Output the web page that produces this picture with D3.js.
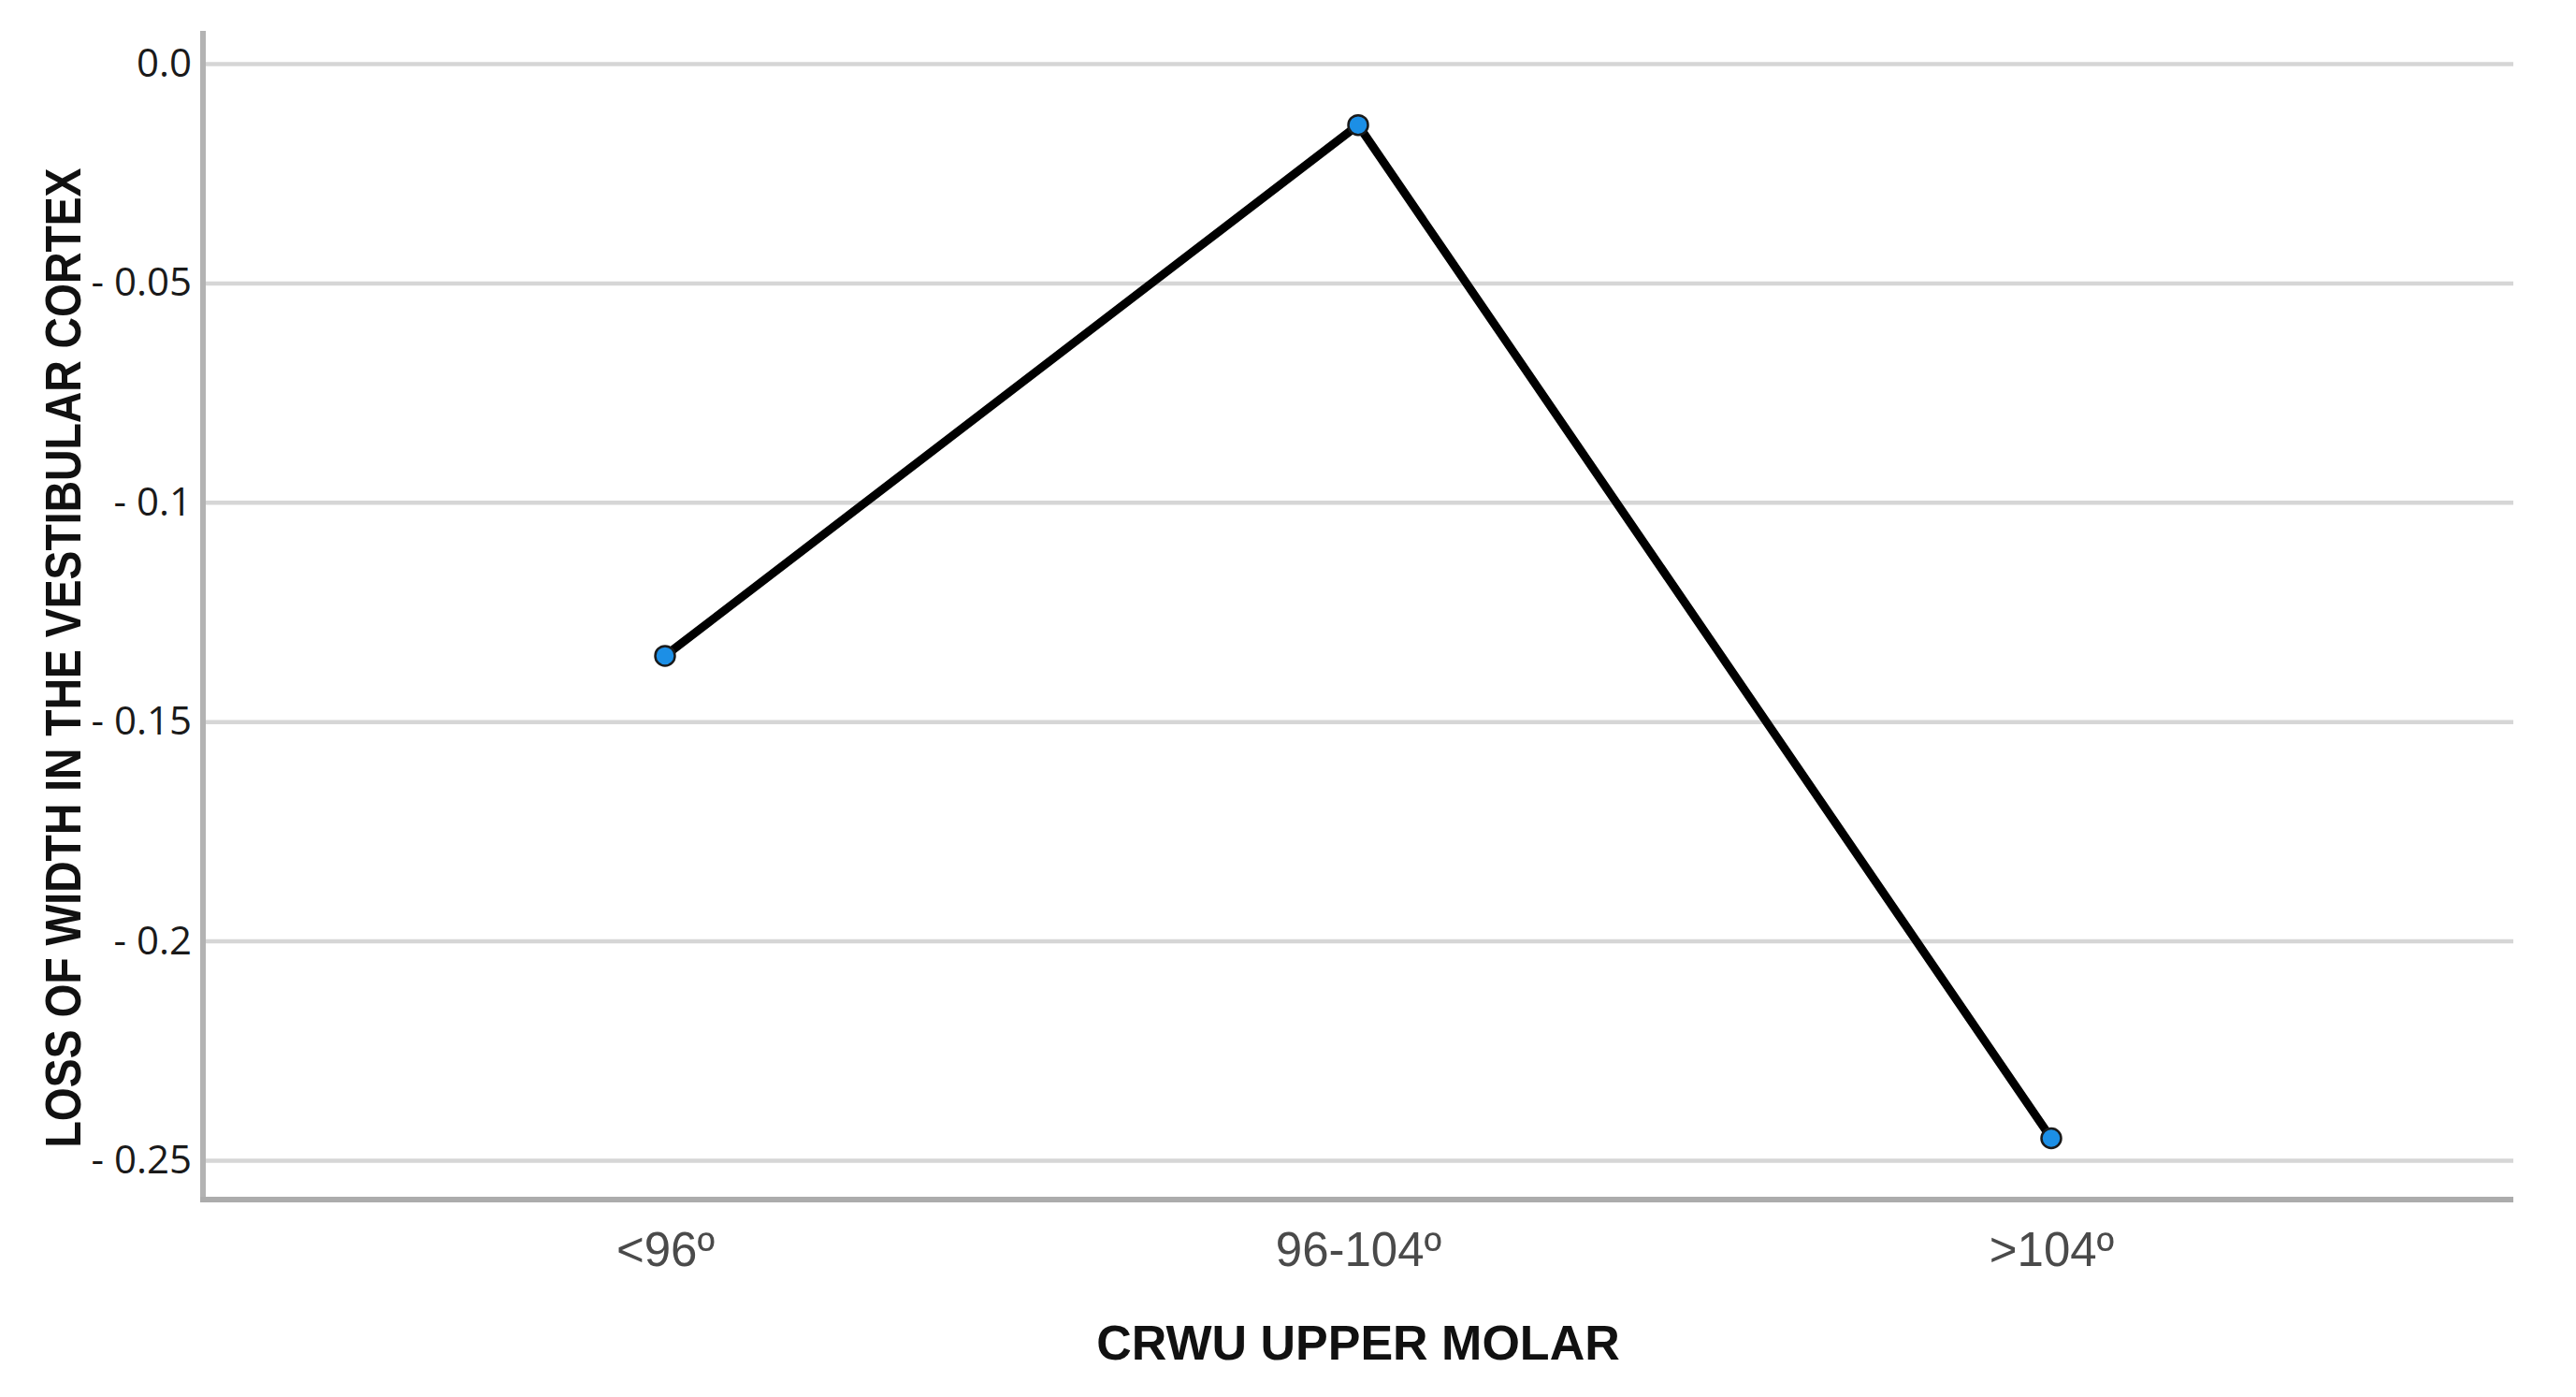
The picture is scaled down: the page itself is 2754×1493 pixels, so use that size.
<!DOCTYPE html>
<html>
<head>
<meta charset="utf-8">
<script src="https://cdn.jsdelivr.net/npm/d3@7"></script>
<style>
  html, body { margin: 0; padding: 0; background: #fff; }
</style>
</head>
<body>
<svg id="chart" width="2754" height="1493"></svg>
<script>
// data
var categories = ["<96º", "96-104º", ">104º"];
var values = [-0.135, -0.014, -0.245];
var yTicks = [0, -0.05, -0.1, -0.15, -0.2, -0.25];
var yTickLabels = ["0.0", "- 0.05", "- 0.1", "- 0.15", "- 0.2", "- 0.25"];
var xTitle = "CRWU UPPER MOLAR";
var yTitle = "LOSS OF WIDTH IN THE VESTIBULAR CORTEX";

var plotLeft = 217, plotRight = 2687, plotTop = 33, plotBottom = 1282;

var svg = d3.select("#chart");

var x = d3.scalePoint().domain(categories).range([plotLeft, plotRight]).padding(2 / 3);
var y = d3.scaleLinear().domain([-0.25, 0]).range([1240, 68]);

// gridlines + y tick labels
var yAxis = svg.append("g")
    .attr("transform", "translate(" + plotLeft + ",0)")
    .call(d3.axisLeft(y)
        .tickValues(yTicks)
        .tickFormat(function (d, i) { return yTickLabels[i]; })
        .tickSize(-(plotRight - plotLeft))
        .tickPadding(12));
yAxis.select(".domain").remove();
yAxis.selectAll(".tick line").attr("stroke", "#d6d6d6").attr("stroke-width", 4.5);
yAxis.selectAll(".tick text")
    .attr("fill", "#1a1a1a")
    .style("font-family", "'Open Sans', 'Noto Sans', sans-serif")
    .style("font-size", "42px");

// x tick labels
var xAxis = svg.append("g")
    .attr("transform", "translate(0," + plotBottom + ")")
    .call(d3.axisBottom(x).tickSize(0).tickPadding(35));
xAxis.select(".domain").remove();
xAxis.selectAll(".tick text")
    .attr("fill", "#4a4a4a")
    .style("font-family", "'Liberation Sans', Arial, sans-serif")
    .style("font-size", "51px");

// axis lines
svg.append("line")
    .attr("x1", plotLeft).attr("y1", plotTop).attr("x2", plotLeft).attr("y2", plotBottom + 3)
    .attr("stroke", "#b3b3b3").attr("stroke-width", 6);
svg.append("line")
    .attr("x1", plotLeft - 3).attr("y1", plotBottom).attr("x2", plotRight).attr("y2", plotBottom)
    .attr("stroke", "#acacac").attr("stroke-width", 6);

// the line
var line = d3.line()
    .x(function (d, i) { return x(categories[i]); })
    .y(function (d) { return y(d); });

svg.append("path")
    .datum(values)
    .attr("d", line)
    .attr("fill", "none")
    .attr("stroke", "#000")
    .attr("stroke-width", 9)
    .attr("stroke-linejoin", "round");

svg.selectAll("circle.pt")
    .data(values)
    .enter().append("circle")
    .attr("class", "pt")
    .attr("cx", function (d, i) { return x(categories[i]); })
    .attr("cy", function (d) { return y(d); })
    .attr("r", 10.5)
    .attr("fill", "#1c8fe6")
    .attr("stroke", "#1a1a1a")
    .attr("stroke-width", 2.5);

// titles
svg.append("text")
    .attr("x", (plotLeft + plotRight) / 2)
    .attr("y", 1453)
    .attr("text-anchor", "middle")
    .attr("fill", "#111")
    .style("font-family", "'Liberation Sans', Arial, sans-serif")
    .style("font-weight", "bold")
    .style("font-size", "52px")
    .text(xTitle);

svg.append("text")
    .attr("transform", "translate(86,703) rotate(-90)")
    .attr("text-anchor", "middle")
    .attr("fill", "#111")
    .attr("textLength", 1047)
    .attr("lengthAdjust", "spacingAndGlyphs")
    .style("font-family", "'Liberation Sans', Arial, sans-serif")
    .style("font-weight", "bold")
    .style("font-size", "53px")
    .text(yTitle);
</script>
</body>
</html>
